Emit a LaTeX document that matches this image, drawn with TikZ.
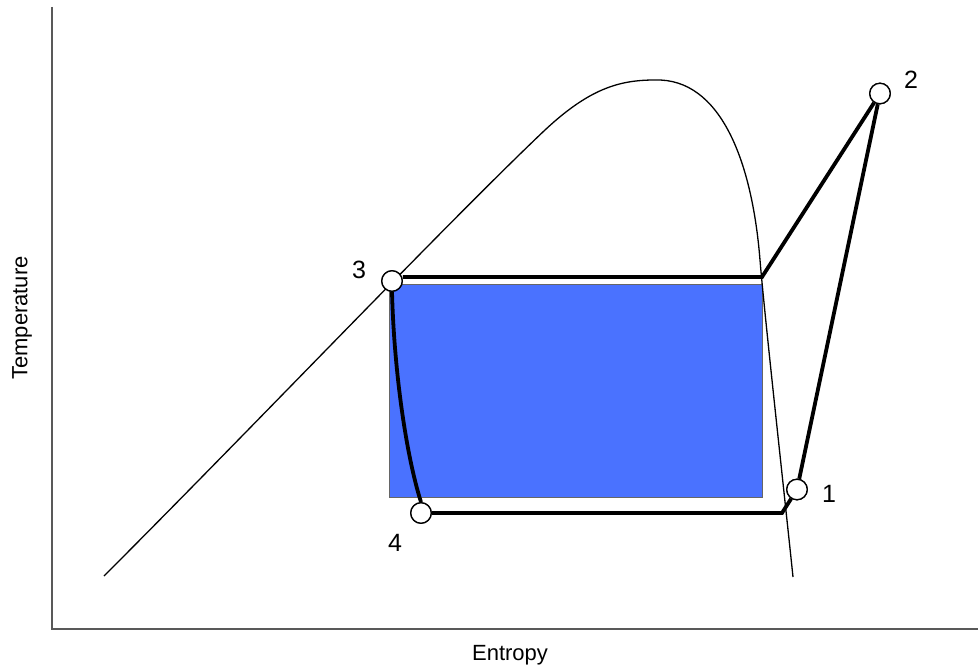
\documentclass[tikz,border=0pt]{standalone}
\usepackage{fontspec}
\setmainfont{Liberation Sans}
\begin{document}
\begin{tikzpicture}[x=1pt,y=-1pt,
  pt/.style={circle,draw=black,fill=white,line width=1.3pt,minimum size=20.5pt,inner sep=0pt},
  cyc/.style={line width=3.8pt,line join=miter},
  lbl/.style={font=\fontsize{22}{26}\selectfont,inner sep=0pt},
  num/.style={font=\fontsize{25}{29}\selectfont,inner sep=0pt},
  axis/.style={draw=black!65,line width=2pt},
  dome/.style={line width=1.3pt}]
\useasboundingbox (0,0) rectangle (978,671);
% axes
\coordinate (ytop) at (51.5,7);
\coordinate (orig) at (51.5,629);
\coordinate (xend) at (978,629);
\draw[axis] (ytop) -- (orig) -- (xend);
% blue rectangle
\filldraw[fill={rgb,255:red,74;green,114;blue,255},draw=black!60,line width=1pt] (389.5,285) rectangle (762,497);
% dome
\draw[dome] (104,576) .. controls (250,430) and (450,220) .. (545,130)
  .. controls (590,88) and (620,80) .. (655,80)
  .. controls (720,78) and (752,160) .. (760,260)
  .. controls (764,310) and (785,500) .. (793,577);
% cycle points
\coordinate (c3) at (762,277);
\coordinate (c1) at (782,513);
\node[pt] (p3) at (392,281) {};
\node[pt] (p2) at (880,93.5) {};
\node[pt] (p1) at (797,489.5) {};
\node[pt] (p4) at (421,513) {};
\draw[cyc] (p3.east |- c3) -- (c3) -- (p2);
\draw[cyc] (p2) -- (p1);
\draw[cyc] (p1) -- (c1) -- (p4);
\draw[cyc] (p3.south) .. controls (394,370) and (406,455) .. (p4.north);
% redraw circles on top
\node[pt] at (p3) {};
\node[pt] at (p2) {};
\node[pt] at (p1) {};
\node[pt] at (p4) {};
% labels
\node[num] (l3) at (359,270) {3};
\node[num] (l2) at (911,80) {2};
\node[num] (l1) at (829,494) {1};
\node[num] (l4) at (395,543) {4};
\node[lbl,rotate=90] (ylab) at (22,318) {Temperature};
\node[lbl] (xlab) at (510,655) {Entropy};
\end{tikzpicture}
\end{document}
